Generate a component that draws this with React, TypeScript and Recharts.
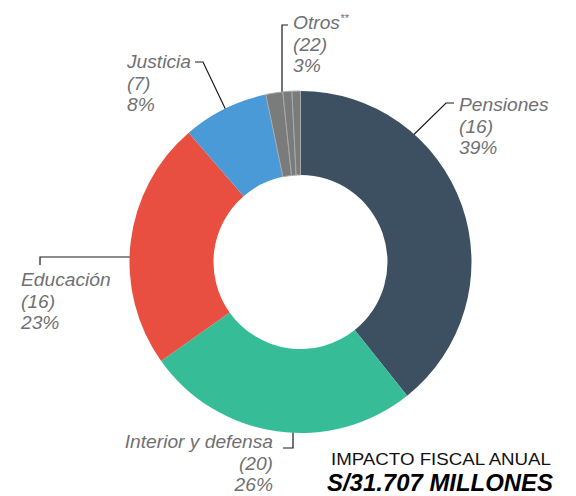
import React from "react";
import { PieChart, Pie, Cell } from "recharts";

// ---- data ----
const categories = ["Pensiones", "Interior y defensa", "Educación", "Justicia", "Otros A", "Otros B", "Otros C"];
const shares = [39.3, 25.9, 23.5, 8.1, 1.6, 0.85, 0.8];
const colors = ["#3d5062", "#36bd98", "#e94f40", "#4a9ad8", "#7a7c7c", "#7a7c7c", "#7a7c7c"];
const labelNames = ["Pensiones", "Interior y defensa", "Educación", "Justicia", "Otros"];
const labelCounts = ["(16)", "(20)", "(16)", "(7)", "(22)"];
const labelPercents = ["39%", "26%", "23%", "8%", "3%"];
const titleLine1 = "IMPACTO FISCAL ANUAL";
const titleLine2 = "S/31.707 MILLONES";

const data = categories.map((c, i) => ({ name: c, value: shares[i] }));

// ---- annotation layout ----
const labelLayout = [
  { x: 459, y: 111, anchor: "start", line: "393,155 446,103 454,103" },
  { x: 273, y: 448, anchor: "end", line: "293,369 293,448 283,448" },
  { x: 21, y: 286, anchor: "start", line: "142,257 40,257 40,265" },
  { x: 127, y: 68, anchor: "start", line: "195,62 203,62 233,125" },
  { x: 293, y: 29, anchor: "start", line: "288,25 282,25 282,96" },
];

const LH = 21.5;
const FS = 19.2;
const FONT = "Liberation Sans, Arial, sans-serif";
const textColor = "#707072";

function Line({ x, y, anchor, children }: any) {
  return (
    <text
      x={x}
      y={y}
      textAnchor={anchor}
      fill={textColor}
      fontFamily={FONT}
      fontStyle="italic"
      fontSize={FS}
    >
      {children}
    </text>
  );
}

export default function App() {
  return (
    <div style={{ position: "absolute", left: 0, top: 0, width: 576, height: 496, background: "#fff" }}>
      <PieChart width={576} height={496} margin={{ top: 0, right: 0, bottom: 0, left: 0 }}>
        <Pie
          data={data}
          dataKey="value"
          nameKey="name"
          cx={300.5}
          cy={262}
          innerRadius={87}
          outerRadius={171}
          startAngle={90}
          endAngle={-270}
          isAnimationActive={false}
        >
          {data.map((d, i) => (
            <Cell
              key={d.name}
              fill={colors[i]}
              stroke={i >= 4 ? "#a8aaaa" : "none"}
              strokeWidth={i >= 4 ? 1 : 0}
            />
          ))}
        </Pie>
        <g>
          {labelLayout.map((l, i) => (
            <g key={i}>
              <polyline points={l.line} fill="none" stroke="#1a1a1a" strokeWidth={1.2} />
              <Line x={l.x} y={l.y} anchor={l.anchor}>
                {labelNames[i]}
                {i === 4 ? (
                  <tspan fontSize={11} dy={-7}>**</tspan>
                ) : null}
              </Line>
              <Line x={l.x} y={l.y + LH} anchor={l.anchor}>{labelCounts[i]}</Line>
              <Line x={l.x} y={l.y + 2 * LH} anchor={l.anchor}>{labelPercents[i]}</Line>
            </g>
          ))}
          <text
            x={551}
            y={465}
            textAnchor="end"
            fill="#111"
            fontFamily={FONT}
            fontSize={16.5}
            textLength={220}
            lengthAdjust="spacingAndGlyphs"
          >
            {titleLine1}
          </text>
          <text
            x={553}
            y={491}
            textAnchor="end"
            fill="#000"
            fontFamily={FONT}
            fontWeight={700}
            fontStyle="italic"
            fontSize={23}
            textLength={226}
            lengthAdjust="spacingAndGlyphs"
          >
            {titleLine2}
          </text>
        </g>
      </PieChart>
    </div>
  );
}
